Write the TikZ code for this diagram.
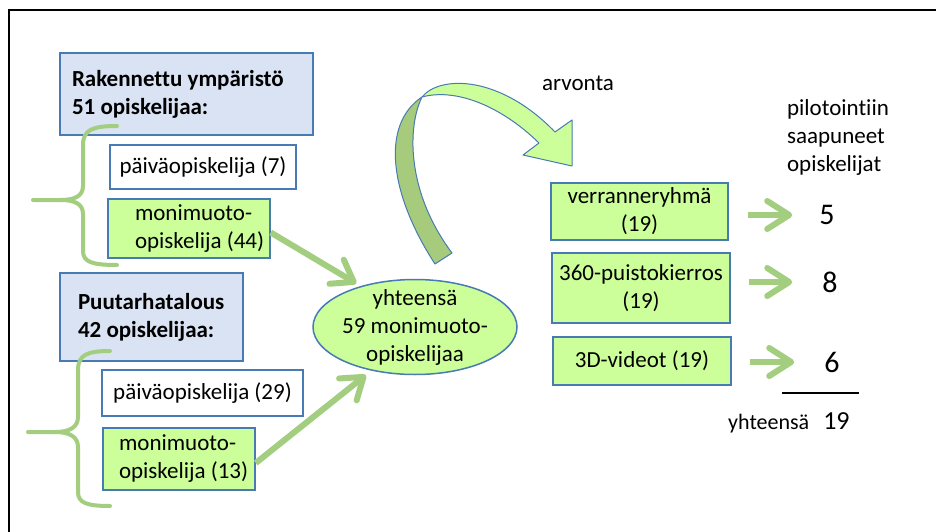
\documentclass[tikz,border=0pt]{standalone}
\usepackage{fontspec}
\setmainfont{Carlito}[Ligatures={NoCommon}]
\usetikzlibrary{arrows.meta,shapes.geometric}
\definecolor{boxgreen}{RGB}{204,255,153}
\definecolor{boxblue}{RGB}{218,227,243}
\definecolor{edgeblue}{RGB}{72,122,180}
\definecolor{leafgreen}{RGB}{163,206,128}
\definecolor{bandgreen}{RGB}{166,203,125}
\begin{document}
\begin{tikzpicture}[x=1pt,y=-1pt,
  txt/.style={font=\fontsize{23}{28}\selectfont},
  box/.style={draw=edgeblue, line width=1.5pt, inner sep=0pt, txt, align=flush center},
  groupbox/.style={box, fill=boxblue, font=\fontsize{23}{28}\selectfont\bfseries, align=flush left},
  daybox/.style={box, fill=white},
  greenbox/.style={box, fill=boxgreen},
  brace/.style={leafgreen, line width=4pt, line cap=round, line join=round},
  link/.style={leafgreen, line width=6pt, -{Straight Barb[length=20pt,width=28pt,round]}},
  pointer/.style={leafgreen, line width=6pt, -{Straight Barb[length=22pt,width=28pt,round]}},
  bignum/.style={font=\fontsize{30}{36}\selectfont, inner sep=0pt},
  plain/.style={txt, inner sep=0pt},
]
\useasboundingbox (0,0) rectangle (936,532);
\fill[white] (0,0) rectangle (936,532);
% frame
\draw[line width=1.8pt] (9,532) -- (9,10) -- (936,10);

% left column: study programmes
\node[groupbox, minimum width=253pt, minimum height=82pt, text width=229pt]
  (rak) at (186.5,94) {\mbox{Rakennettu ympäristö}\\\mbox{51 opiskelijaa:}};
\node[daybox, minimum width=186pt, minimum height=44pt] (day1) at (203,167) {päiväopiskelija (7)};
\node[greenbox, minimum width=162pt, minimum height=59pt, text width=108pt, align=flush left]
  (mm1) at (189,228.5) {\mbox{monimuoto-}\\\mbox{opiskelija (44)}};

\node[groupbox, minimum width=183pt, minimum height=88pt, text width=147pt]
  (puu) at (151.5,317) {\mbox{Puutarhatalous}\\\mbox{42 opiskelijaa:}};
\node[daybox, minimum width=201pt, minimum height=46pt] (day2) at (202.5,393) {päiväopiskelija (29)};
\node[greenbox, minimum width=152pt, minimum height=62pt, text width=120pt, align=flush left]
  (mm2) at (179,459) {\mbox{monimuoto-}\\\mbox{opiskelija (13)}};

% braces
\draw[brace] (117,126) .. controls (92,126) and (83,130) .. (83,145) -- (83,186)
  .. controls (83,196) and (75,200) .. (60,200) -- (33,200);
\draw[brace] (60,200) .. controls (75,200) and (83,204) .. (83,214) -- (83,251)
  .. controls (83,262) and (92,265) .. (117,265);
\draw[brace] (110,351) .. controls (87,351) and (78,355) .. (78,370) -- (78,417)
  .. controls (78,427) and (70,432) .. (55,432) -- (28,432);
\draw[brace] (55,432) .. controls (70,432) and (78,437) .. (78,447) -- (78,492)
  .. controls (78,503) and (87,506) .. (110,506);

% total
\node[ellipse, draw=edgeblue, line width=1.5pt, fill=boxgreen, inner sep=0pt,
  minimum width=204pt, minimum height=95pt,
  label={[txt, align=flush center, inner sep=0pt]center:{yhteensä\\59 monimuoto-\\opiskelijaa}}]
  (total) at (415,327) {};

\draw[link, shorten >=5pt] ([yshift=-4pt]mm1.east) -- (total.143);
\draw[link, shorten >=7pt] ([yshift=-4pt]mm2.east) -- (total.225);

% draw (curved arrow)
\filldraw[fill=bandgreen, draw=edgeblue, line width=1pt, line join=round]
  (435,264) .. controls (390,195) and (380,125) .. (422,97)
  .. controls (408,125) and (405,190) .. (452,253) -- cycle;
\filldraw[fill=boxgreen, draw=edgeblue, line width=1pt, line join=round]
  (422,97) .. controls (440,75) and (500,75) .. (555,132) -- (572,120) -- (572,166)
  -- (523,155) -- (539,143) .. controls (500,105) and (455,88) .. (422,97) -- cycle;
\node[plain] (arv) at (578,83) {arvonta};

% groups
\node[greenbox, minimum width=177pt, minimum height=57pt] (verr) at (639.5,211.5) {verranneryhmä\\(19)};
\node[greenbox, minimum width=178pt, minimum height=70pt] (puisto) at (641,288) {360-puistokierros\\(19)};
\node[greenbox, minimum width=178pt, minimum height=48pt] (video) at (642,361) {3D-videot (19)};

% arrivals
\node[plain, align=flush left] (head) at (838,137) {pilotointiin\\saapuneet\\opiskelijat};
\node[bignum] (n5) at (827,215) {5};
\node[bignum] (n8) at (830,282) {8};
\node[bignum] (n6) at (832,362) {6};

\draw[pointer, shorten <=19pt, shorten >=27pt] (verr.east |- n5.west) -- (n5.west);
\draw[pointer, shorten <=18pt, shorten >=30pt] (puisto.east |- n8.west) -- (n8.west);
\draw[pointer, shorten <=18pt, shorten >=30pt] (video.east |- n6.west) -- (n6.west);

\draw[line width=2pt] (782,393) -- (859,393);
\node[anchor=base west, inner sep=0pt] (sum) at (728,429)
  {\fontsize{22}{26}\selectfont yhteensä\hspace{14pt}{\fontsize{26}{30}\selectfont 19}};
\end{tikzpicture}
\end{document}
